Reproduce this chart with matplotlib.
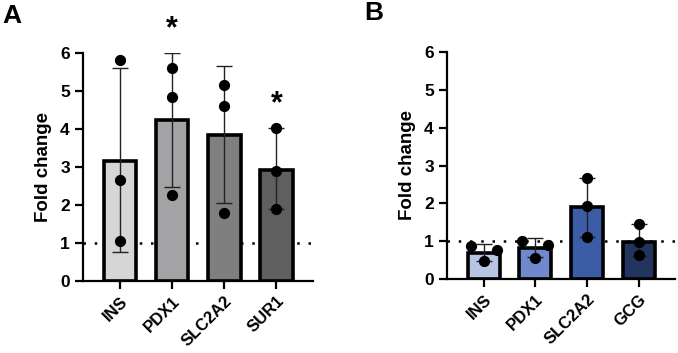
import numpy as np
import matplotlib
matplotlib.use("Agg")
import matplotlib.pyplot as plt

plt.rcParams['font.family'] = ['Liberation Sans', 'DejaVu Sans']
plt.rcParams['font.weight'] = 'bold'

# Panel A data
genes_a = ['INS', 'PDX1', 'SLC2A2', 'SUR1']
means_a = [3.15, 4.23, 3.85, 2.93]
err_lo_a = [0.77, 2.48, 2.05, 1.89]
err_hi_a = [5.60, 6.00, 5.65, 4.02]
points_a = [[5.82, 2.67, 1.04], [5.61, 4.85, 2.27], [5.17, 4.61, 1.80], [4.02, 2.90, 1.89]]
jitter_a = [[0, 0, 0], [0, 0, 0], [0, 0, 0], [0, 0, 0]]
stars_a = ['', '*', '', '*']
colors_a = ['#d6d6d6', '#a3a3a5', '#7f7f7f', '#5f5f5f']

# Panel B data
genes_b = ['INS', 'PDX1', 'SLC2A2', 'GCG']
means_b = [0.70, 0.82, 1.90, 0.99]
err_lo_b = [0.48, 0.58, 1.12, 0.60]
err_hi_b = [0.92, 1.08, 2.66, 1.46]
points_b = [[0.88, 0.76, 0.47], [1.00, 0.91, 0.56], [2.66, 1.94, 1.12], [1.46, 0.98, 0.63]]
jitter_b = [[-0.24, 0.25, 0], [-0.25, 0.24, 0], [0, 0, 0], [0, 0, 0]]
stars_b = ['', '', '', '']
colors_b = ['#b7c4e4', '#7088cc', '#3c5ca6', '#22355f']


def panel(ax, genes, means, lo, hi, pts, jit, stars, colors):
    x = np.arange(len(genes))
    ax.axhline(1, color='black', linestyle=(0, (1, 3.5)), linewidth=1.8, zorder=1)
    ax.bar(x, means, width=0.62, color=colors, edgecolor='black', linewidth=2.6, zorder=2)
    m = np.array(means)
    yerr = [m - np.array(lo), np.array(hi) - m]
    ax.errorbar(x, means, yerr=yerr, fmt='none', ecolor='#222222', elinewidth=1.0,
                capsize=6, capthick=1.0, zorder=3)
    for i in range(len(genes)):
        ax.scatter(x[i] + np.array(jit[i]), pts[i], s=50, color='black', zorder=4)
        if stars[i]:
            top = max(hi[i], max(pts[i]))
            ax.text(x[i], top + 0.62, stars[i], ha='center', va='center',
                    fontsize=22, fontweight='bold')
    ax.set_xlim(-0.71, 3.7)
    ax.set_ylim(0, 6)
    ax.set_yticks(range(7))
    ax.set_xticks(x)
    ax.set_xticklabels(genes, rotation=45, ha='right', rotation_mode='anchor')
    ax.set_ylabel('Fold change', fontsize=13.5, fontweight='bold', labelpad=6)
    for s in ['top', 'right']:
        ax.spines[s].set_visible(False)
    for s in ['left', 'bottom']:
        ax.spines[s].set_linewidth(1.6)
    ax.tick_params(axis='both', width=1.6, length=6, labelsize=12.5)
    ax.tick_params(axis='x', pad=3, labelsize=12)
    for lab in ax.get_xticklabels() + ax.get_yticklabels():
        lab.set_fontweight('bold')
    ax.patch.set_alpha(0)


fig = plt.figure(figsize=(6.78, 3.53), dpi=100)
ax_a = fig.add_axes([83 / 678, 72 / 353, 230 / 678, 228 / 353])
ax_b = fig.add_axes([447 / 678, 74 / 353, 228 / 678, 227 / 353])

panel(ax_a, genes_a, means_a, err_lo_a, err_hi_a, points_a, jitter_a, stars_a, colors_a)
panel(ax_b, genes_b, means_b, err_lo_b, err_hi_b, points_b, jitter_b, stars_b, colors_b)

fig.text(0.004, 0.955, 'A', fontsize=19, fontweight='bold', va='center')
fig.text(0.537, 0.962, 'B', fontsize=19, fontweight='bold', va='center')

fig.savefig('out.png', dpi=100)
